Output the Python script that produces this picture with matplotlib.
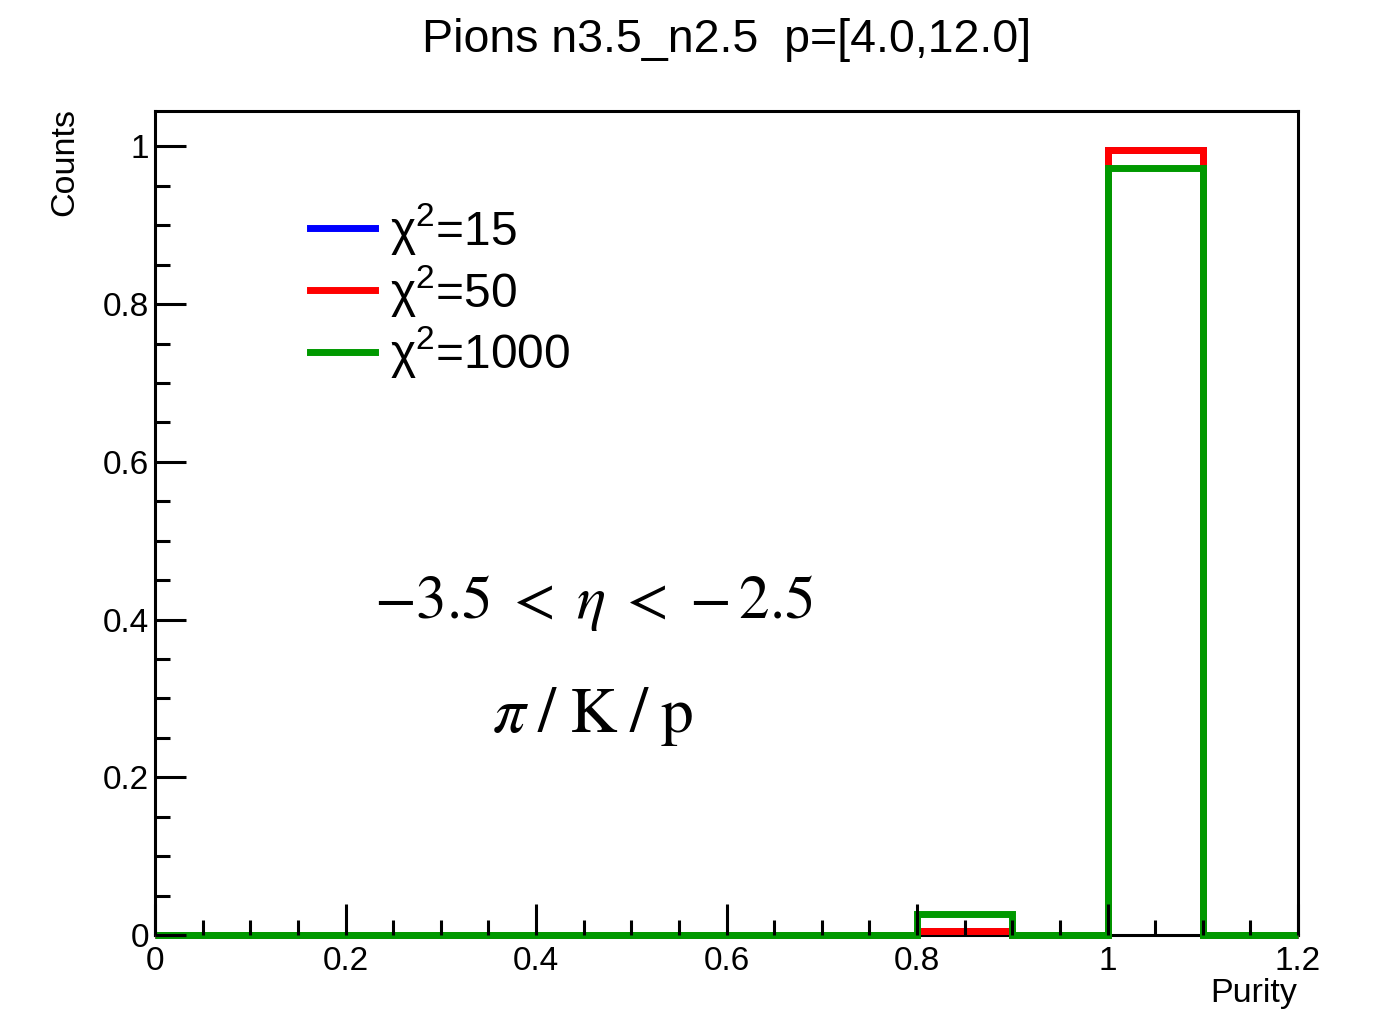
import numpy as np
import matplotlib
matplotlib.use("Agg")
import matplotlib.pyplot as plt
from matplotlib.ticker import MultipleLocator, FuncFormatter
from matplotlib.lines import Line2D

plt.rcParams['font.family'] = ['Liberation Sans', 'DejaVu Sans']
plt.rcParams['mathtext.fontset'] = 'stix'

# data
bin_edges = [0.0, 0.1, 0.2, 0.3, 0.4, 0.5, 0.6, 0.7, 0.8, 0.9, 1.0, 1.1, 1.2]
counts_chi15 = [0, 0, 0, 0, 0, 0, 0, 0, 0.005, 0, 0.995, 0]
counts_chi50 = [0, 0, 0, 0, 0, 0, 0, 0, 0.005, 0, 0.995, 0]
counts_chi1000 = [0, 0, 0, 0, 0, 0, 0, 0, 0.027, 0, 0.973, 0]
series_labels = [r"$\mathregular{\chi^{2}}$=15", r"$\mathregular{\chi^{2}}$=50", r"$\mathregular{\chi^{2}}$=1000"]
series_colors = ["#0000ff", "#ff0000", "#009900"]

W, H = 1382, 1013
fig = plt.figure(figsize=(W / 100, H / 100), dpi=100)
ax = fig.add_axes([155 / W, 1 - 935 / H, (1298 - 155) / W, (935 - 111) / H])

for vals, col in zip([counts_chi15, counts_chi50, counts_chi1000], series_colors):
    ax.stairs(vals, bin_edges, color=col, linewidth=5, baseline=None, clip_on=False)

ax.set_xlim(0, 1.2)
ax.set_ylim(0, 1.045)

ax.xaxis.set_major_locator(MultipleLocator(0.2))
ax.xaxis.set_minor_locator(MultipleLocator(0.05))
ax.yaxis.set_major_locator(MultipleLocator(0.2))
ax.yaxis.set_minor_locator(MultipleLocator(0.05))

def fmt(v, pos):
    if abs(v) < 1e-9:
        return "0"
    if abs(v - round(v)) < 1e-9:
        return str(int(round(v)))
    return f"{v:.1f}"

ax.xaxis.set_major_formatter(FuncFormatter(fmt))
ax.yaxis.set_major_formatter(FuncFormatter(fmt))

ax.tick_params(axis='both', which='both', direction='in', top=False, right=False,
               labelsize=24, width=2.2)
ax.tick_params(axis='both', which='major', length=22)
ax.tick_params(axis='both', which='minor', length=11)
ax.tick_params(axis='x', which='major', pad=8)
ax.tick_params(axis='y', which='major', pad=4.5)
for sp in ax.spines.values():
    sp.set_linewidth(2.2)
    sp.set_zorder(0.5)

# title and axis labels
fig.text((155 + 1298) / 2 / W, 1 - 40 / H, "Pions n3.5_n2.5  p=[4.0,12.0]",
         ha='center', va='center', fontsize=33.5)
fig.text(65 / W, 1 - 108 / H, "Counts", rotation=90, ha='center', va='top', fontsize=24.5)
fig.text(1297 / W, 1 - 993 / H, "Purity", ha='right', va='center', fontsize=24.5)

# legend
handles = [Line2D([0], [0], color=c, linewidth=5) for c in series_colors]
leg = ax.legend(handles, series_labels, loc='upper left',
                bbox_to_anchor=((310 - 155) / (1298 - 155), (935 - 201) / (935 - 111)),
                frameon=False, fontsize=34.5, handlelength=1.35, handletextpad=0.32,
                labelspacing=0.12, borderaxespad=0, borderpad=0)

# annotations
fig.text(594 / W, 1 - 603 / H, r"$-3.5\;<\;\eta\;<\;{-}\,2.5$", ha='center', va='center', fontsize=44)
fig.text(593 / W, 1 - 716 / H, r"$\pi\;/\;\mathrm{K}\;/\;\mathrm{p}$", ha='center', va='center', fontsize=47)

fig.savefig("out.png", dpi=100)
